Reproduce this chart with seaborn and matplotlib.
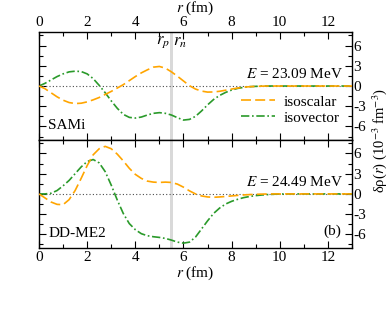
import matplotlib
matplotlib.use("Agg")
import matplotlib.pyplot as plt
from matplotlib.ticker import MultipleLocator
import numpy as np
import pandas as pd
import seaborn as sns

# radius grid (fm) and transition densities (10^-3 fm^-3)
r = np.arange(0, 13.01, 0.25)

sami_is = [0, -0.4, -1.0, -1.6, -2.1, -2.45, -2.6, -2.55, -2.35, -2.05, -1.7, -1.25, -0.8,
           -0.3, 0.2, 0.8, 1.4, 1.95, 2.4, 2.8, 2.9, 2.65, 2.1, 1.45, 0.75, 0.05, -0.45,
           -0.75, -0.9, -0.88, -0.78, -0.62, -0.45, -0.3, -0.18, -0.1, -0.05, -0.02, 0,
           0, 0, 0, 0, 0, 0, 0, 0, 0, 0, 0, 0, 0, 0]
sami_iv = [0, 0.4, 0.9, 1.4, 1.8, 2.1, 2.2, 2.15, 1.8, 1.1, 0.1, -1.0, -2.2,
           -3.3, -4.2, -4.65, -4.75, -4.6, -4.3, -4.05, -3.95, -4.05, -4.3, -4.7, -5.05,
           -4.95, -4.5, -3.7, -2.8, -2.0, -1.4, -0.95, -0.6, -0.35, -0.2, -0.1, -0.05,
           -0.02, 0, 0, 0, 0, 0, 0, 0, 0, 0, 0, 0, 0, 0, 0, 0]
ddme2_is = [0, -0.6, -1.2, -1.55, -1.6, -0.85, 0.5, 2.3, 4.2, 5.8, 6.7, 7.05, 6.7,
            5.9, 4.9, 3.8, 2.9, 2.3, 1.9, 1.75, 1.7, 1.75, 1.7, 1.45, 1.0, 0.45, 0.0,
            -0.3, -0.45, -0.5, -0.45, -0.38, -0.3, -0.22, -0.15, -0.1, -0.06, -0.03, -0.01,
            0, 0, 0, 0, 0, 0, 0, 0, 0, 0, 0, 0, 0, 0]
ddme2_iv = [0, 0.0, 0.1, 0.5, 1.2, 2.0, 3.0, 4.0, 4.8, 5.1, 4.6, 3.3, 1.3,
            -0.9, -2.9, -4.4, -5.3, -5.9, -6.2, -6.35, -6.45, -6.6, -6.85, -7.15, -7.3,
            -7.15, -6.4, -5.2, -4.0, -2.9, -2.1, -1.5, -1.1, -0.8, -0.55, -0.38, -0.25,
            -0.16, -0.1, -0.05, -0.02, 0, 0, 0, 0, 0, 0, 0, 0, 0, 0, 0, 0]

panels = [("SAMi", "23.09", sami_is, sami_iv), ("DD-ME2", "24.49", ddme2_is, ddme2_iv)]
r_p, r_n = 5.44, 5.58

sns.set_style("ticks")
plt.rcParams["font.family"] = ["Liberation Serif", "DejaVu Serif"]
plt.rcParams["mathtext.fontset"] = "stix"
plt.rcParams["font.size"] = 11
for k in ["text.color", "axes.labelcolor", "xtick.color", "ytick.color", "axes.edgecolor"]:
    plt.rcParams[k] = "black"

fig = plt.figure(figsize=(3.9, 3.24), dpi=100)
ax_top = fig.add_axes([0.1, 0.568, 0.8026, 0.333])
ax_bot = fig.add_axes([0.1, 0.235, 0.8026, 0.333])

orange = "#ffa500"
green = "#2a9a2a"

for ax, (name, energy, iso_s, iso_v) in zip([ax_top, ax_bot], panels):
    df = pd.DataFrame({"r": r, "is": iso_s, "iv": iso_v})
    ax.axvspan(r_p, r_n, color="0.85", lw=0, zorder=0)
    ax.axhline(0, color="0.3", lw=0.8, ls=(0, (1, 2)), zorder=1)
    sns.lineplot(data=df, x="r", y="is", ax=ax, color=orange, lw=1.2,
                 linestyle=(0, (6, 2.5)), label="isoscalar", zorder=3)
    sns.lineplot(data=df, x="r", y="iv", ax=ax, color=green, lw=1.2,
                 linestyle=(0, (5, 1.6, 1, 1.6)), label="isovector", zorder=2)
    ax.set_xlim(0, 13)
    ax.set_ylim(-8, 8)
    ax.set_xlabel("")
    ax.set_ylabel("")
    ax.xaxis.set_major_locator(MultipleLocator(2))
    ax.xaxis.set_minor_locator(MultipleLocator(1))
    ax.yaxis.set_minor_locator(MultipleLocator(1.5))
    ax.set_yticks([-6, -3, 0, 3, 6])
    ax.set_yticklabels(["-6", "-3", "0", "3", "6"])
    ax.tick_params(which="both", direction="in", top=True, bottom=True, left=True, right=True,
                   labelleft=False, labelright=True, width=0.8, labelsize=11, pad=2)
    ax.tick_params(axis="y", pad=1)
    ax.tick_params(which="major", length=5)
    ax.tick_params(which="minor", length=3)
    for s in ax.spines.values():
        s.set_linewidth(1.0)
    ax.text(12.6, 0.8, f"$E$ = {energy} MeV", ha="right", va="bottom", fontsize=11)
    ax.text(0.03, 0.13, name, transform=ax.transAxes, ha="left", va="center", fontsize=11)
    ax.get_legend().remove()

ax_top.tick_params(labeltop=True, labelbottom=False)
ax_bot.tick_params(labeltop=False, labelbottom=True)
ax_top.xaxis.set_label_position("top")
ax_top.set_xlabel("$r$ (fm)", labelpad=3)
ax_bot.set_xlabel("$r$ (fm)", labelpad=1)

ax_top.text(5.15, 7.7, "$r_p$", ha="center", va="top", fontsize=12)
ax_top.text(5.85, 7.7, "$r_n$", ha="center", va="top", fontsize=12)
ax_top.legend(loc="lower right", bbox_to_anchor=(0.985, 0.07), frameon=False, fontsize=11,
              handlelength=2.2, handletextpad=0.6, labelspacing=0.15, borderpad=0)
ax_bot.text(0.965, 0.15, "(b)", transform=ax_bot.transAxes, ha="right", va="center", fontsize=11)

fig.text(0.972, 0.568, r"δρ($r$) (10$^{-3}$ fm$^{-3}$)", rotation=90, ha="center", va="center",
         fontsize=10.5)

fig.savefig("out.png", dpi=100)
